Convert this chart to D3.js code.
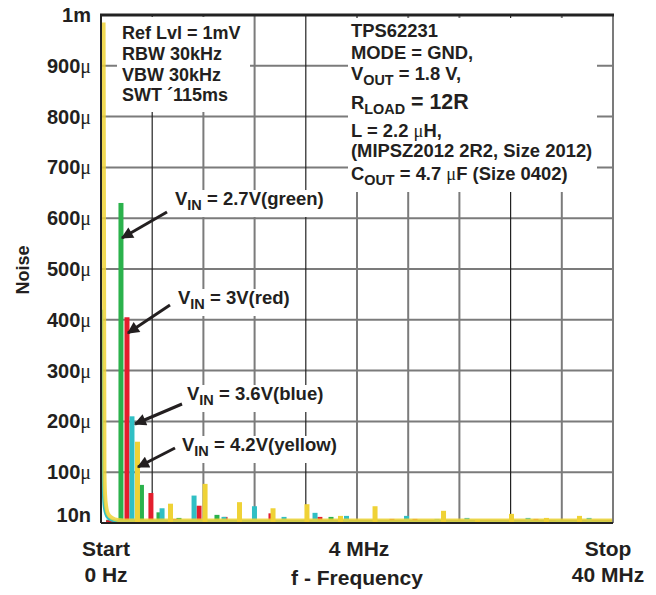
<!DOCTYPE html>
<html>
<head>
<meta charset="utf-8">
<script src="https://cdn.jsdelivr.net/npm/d3@7"></script>
<style>
  body { margin: 0; background: #fff; }
  text { font-family: "Liberation Sans", Arial, sans-serif; font-weight: bold; fill: #231f20; }
  .mu { font-family: "Liberation Serif", "DejaVu Serif", serif; font-weight: normal; }
</style>
</head>
<body>
<svg id="chart" width="656" height="595"></svg>
<script>
// frequency in MHz, noise in uV
var seriesNames = ["green", "red", "blue", "yellow"];
var yTickValues = [0, 100, 200, 300, 400, 500, 600, 700, 800, 900, 1000];
var yTickLabels = ["10n", "100", "200", "300", "400", "500", "600", "700", "800", "900", "1m"];
var xTickValues = [0, 4, 8, 12, 16, 20, 24, 28, 32, 36, 40];

var greenPeaks = [[1.56, 630], [3.16, 75], [4.53, 21], [6.09, 10], [9.06, 16], [17.97, 12], [19.45, 5], [34.4, 4]];
var redPeaks = [[2.03, 405], [3.9, 59], [5.78, 8], [7.66, 34], [9.69, 12], [13.28, 19], [15.0, 5], [17.1, 12],
                [22.73, 8], [24.53, 8], [28.05, 4], [30.23, 6], [33.98, 8], [39.7, 6]];
var bluePeaks = [[2.42, 210], [4.77, 29], [7.27, 54], [9.61, 12], [11.99, 33], [14.3, 12], [16.72, 20], [19.18, 14],
                 [23.87, 14], [26.25, 8], [28.59, 10], [30.78, 4], [33.36, 10], [35.7, 6], [38.13, 10], [38.9, 4]];
var yellowPeaks = [[2.85, 160], [5.43, 38], [8.13, 77], [10.82, 41], [13.44, 29], [16.09, 37], [18.71, 14], [21.41, 33],
                   [26.76, 24], [29.41, 6], [32.07, 18], [34.8, 10], [37.38, 14]];

// low frequency skirt (DC) then noise floor
var greenFloor = [[0.4, 4], [40, 4]];
var redFloor = [[0.4, 3], [40, 3]];
var blueFloor = [[0.08, 420], [0.11, 150], [0.15, 70], [0.22, 35], [0.35, 18], [0.55, 9], [0.9, 5], [1.4, 3], [40, 2.5]];
var yellowFloor = [[0.2, 985], [0.24, 500], [0.27, 100], [0.32, 55], [0.42, 30], [0.55, 18], [0.86, 10], [1.33, 6], [2.2, 5], [40, 5]];

var peaks = [greenPeaks, redPeaks, bluePeaks, yellowPeaks];
var floors = [greenFloor, redFloor, blueFloor, yellowFloor];

var svg = d3.select("#chart");
var pLeft = 101, pRight = 613, pTop = 15, pBottom = 523;

var x = d3.scaleLinear().domain([0, 40]).range([pLeft, pRight]);
var y = d3.scaleLinear().domain([0, 1000]).range([pBottom, pTop]);
var color = d3.scaleOrdinal().domain(seriesNames).range(["#2bb24c", "#e31e2d", "#30bfc4", "#efd236"]);

svg.append("rect").attr("width", 656).attr("height", 595).attr("fill", "#fff");

// grid
svg.append("g")
  .selectAll("line").data(yTickValues.slice(1, -1)).enter().append("line")
    .attr("x1", pLeft).attr("x2", pRight)
    .attr("y1", function(d) { return y(d); }).attr("y2", function(d) { return y(d); })
    .attr("stroke", "#7b7b7b").attr("stroke-width", 2);

svg.append("g")
  .selectAll("line").data(xTickValues.slice(1, -1)).enter().append("line")
    .attr("x1", function(d) { return x(d); }).attr("x2", function(d) { return x(d); })
    .attr("y1", pTop).attr("y2", pBottom)
    .attr("stroke", function(d) { return (d == 4 || d == 16 || d == 32) ? "#222" : "#7b7b7b"; })
    .attr("stroke-width", function(d) { return (d == 4 || d == 16 || d == 32) ? 1.2 : 2; });

// white boxes behind the notes
svg.append("rect").attr("x", 117).attr("y", pTop + 2).attr("width", 133).attr("height", 95).attr("fill", "#fff");
svg.append("rect").attr("x", 348).attr("y", pTop + 3).attr("width", 249).attr("height", 174).attr("fill", "#fff");

// spectra
var line = d3.line()
  .x(function(d) { return x(d[0]); })
  .y(function(d) { return y(d[1]); })
  .curve(d3.curveMonotoneX);

seriesNames.forEach(function(name, i) {
  var g = svg.append("g").attr("class", "series-" + name);
  g.append("path")
    .datum(floors[i])
    .attr("fill", "none")
    .attr("stroke", color(name))
    .attr("stroke-width", name == "yellow" ? 4 : 2.5)
    .attr("stroke-opacity", name == "yellow" ? 0.85 : 1)
    .attr("stroke-linejoin", "round")
    .attr("d", line);
  g.selectAll("rect").data(peaks[i]).enter().append("rect")
    .attr("x", function(d) { return x(d[0]) - 2.5; })
    .attr("width", 5)
    .attr("y", function(d) { return y(d[1]); })
    .attr("height", function(d) { return y(0) - y(d[1]); })
    .attr("fill", color(name));
});

// frame
svg.append("line").attr("x1", pRight).attr("x2", pRight).attr("y1", pTop).attr("y2", pBottom)
  .attr("stroke", "#7b7b7b").attr("stroke-width", 2);
svg.append("line").attr("x1", pLeft).attr("x2", pLeft).attr("y1", pTop).attr("y2", pBottom)
  .attr("stroke", "#222").attr("stroke-width", 2);
svg.append("line").attr("x1", pLeft).attr("x2", pRight).attr("y1", pBottom).attr("y2", pBottom)
  .attr("stroke", "#222").attr("stroke-width", 2);
svg.append("line").attr("x1", pLeft - 1).attr("x2", pRight + 1).attr("y1", pTop).attr("y2", pTop)
  .attr("stroke", "#222").attr("stroke-width", 3);

// y tick labels
var yl = svg.append("g").selectAll("text").data(yTickValues).enter().append("text")
  .attr("x", 91)
  .attr("y", function(d, i) { return y(d) + (i == 0 ? -1 : 7); })
  .attr("text-anchor", "end")
  .style("font-size", "20px");
yl.append("tspan").text(function(d, i) { return yTickLabels[i]; });
yl.filter(function(d, i) { return i > 0 && i < yTickValues.length - 1; })
  .append("tspan").attr("class", "mu").text("\u03bc");

svg.append("text")
  .attr("transform", "translate(29,270) rotate(-90)")
  .attr("text-anchor", "middle")
  .style("font-size", "18px")
  .text("Noise");

// x labels
function xLabel(tx, ty, s) {
  svg.append("text").attr("x", tx).attr("y", ty)
    .attr("text-anchor", "middle")
    .style("font-size", "21px")
    .text(s);
}
xLabel(x(0) + 5, 556, "Start");
xLabel(x(0) + 5, 582, "0 Hz");
xLabel(x(20) + 2, 556, "4 MHz");
xLabel(x(40) - 5, 556, "Stop");
xLabel(x(40) - 5, 582, "40 MHz");
xLabel(x(20), 585, "f - Frequency");

// multi-part text with subscripts
function richText(tx, ty, parts, size) {
  var t = svg.append("text").attr("x", tx).attr("y", ty).style("font-size", size + "px");
  var shift = 0;
  parts.forEach(function(p) {
    var dy = 0;
    if (p.sub && shift == 0) { dy = 5; shift = 5; }
    else if (!p.sub && shift) { dy = -shift; shift = 0; }
    var s = t.append("tspan").attr("dy", dy).text(p.t);
    if (p.sub) s.style("font-size", (size - 4) + "px");
    if (p.big) s.style("font-size", (size + 3) + "px");
    if (p.mu) s.attr("class", "mu");
  });
  return t;
}

richText(122, 39, [{t: "Ref Lvl = 1mV"}], 18);
richText(122, 60, [{t: "RBW 30kHz"}], 18);
richText(122, 81, [{t: "VBW 30kHz"}], 18);
richText(122, 101, [{t: "SWT \u00b4115ms"}], 18);

richText(351, 37, [{t: "TPS62231"}], 18.4);
richText(351, 59, [{t: "MODE = GND,"}], 18.4);
richText(351, 80, [{t: "V"}, {t: "OUT", sub: true}, {t: " = 1.8 V,"}], 18.4);
richText(351, 109, [{t: "R"}, {t: "LOAD", sub: true}, {t: " = 12R", big: true}], 18.4);
richText(351, 137, [{t: "L = 2.2 "}, {t: "\u03bc", mu: true}, {t: "H,"}], 18.4);
richText(351, 157, [{t: "(MIPSZ2012 2R2, Size 2012)"}], 18.4);
richText(351, 180, [{t: "C"}, {t: "OUT", sub: true}, {t: " = 4.7 "}, {t: "\u03bc", mu: true}, {t: "F (Size 0402)"}], 18.4);

// VIN notes with arrows
var vinLabels = ["2.7V(green)", "3V(red)", "3.6V(blue)", "4.2V(yellow)"];
var notePos = [[175, 205], [178, 304], [187, 400], [182, 451]];
var arrowFrom = [[167, 212], [170, 305], [182, 404], [175, 448]];
var arrowTo = [[122, 238], [128, 333], [135, 424], [138, 467]];

svg.append("defs").append("marker")
  .attr("id", "head")
  .attr("viewBox", "0 0 10 10")
  .attr("refX", 9).attr("refY", 5)
  .attr("markerWidth", 4.5).attr("markerHeight", 4)
  .attr("markerUnits", "strokeWidth")
  .attr("orient", "auto")
  .append("path").attr("d", "M0,0 L10,5 L0,10 z").attr("fill", "#231f20");

vinLabels.forEach(function(lbl, i) {
  var t = richText(notePos[i][0], notePos[i][1], [{t: "V"}, {t: "IN", sub: true}, {t: " = " + lbl}], 18.5);
  var bb = t.node().getBBox();
  svg.insert("rect", function() { return t.node(); })
    .attr("x", bb.x - 3).attr("y", notePos[i][1] - 15)
    .attr("width", bb.width + 6).attr("height", 27)
    .attr("fill", "#fff");
  svg.append("line")
    .attr("x1", arrowFrom[i][0]).attr("y1", arrowFrom[i][1])
    .attr("x2", arrowTo[i][0]).attr("y2", arrowTo[i][1])
    .attr("stroke", "#231f20").attr("stroke-width", 3)
    .attr("marker-end", "url(#head)");
});
</script>
</body>
</html>
